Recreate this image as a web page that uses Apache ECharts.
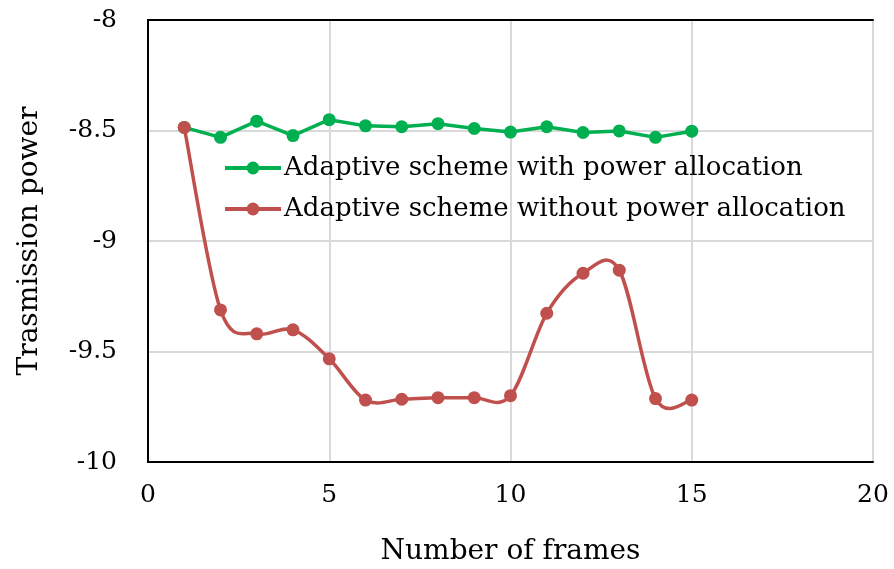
<!DOCTYPE html>
<html>
<head>
<meta charset="utf-8">
<script src="https://cdn.jsdelivr.net/npm/echarts@6/dist/echarts.min.js"></script>
<style>
  html, body { margin: 0; padding: 0; background: #fff; }
  #chart { width: 894px; height: 569px; }
</style>
</head>
<body>
<div id="chart"></div>
<script>
// Frame index for each sample
const frames = [1, 2, 3, 4, 5, 6, 7, 8, 9, 10, 11, 12, 13, 14, 15];

// Transmission power per frame
const withAllocation = [-8.486, -8.531, -8.458, -8.523, -8.451, -8.479, -8.483, -8.469, -8.491, -8.507, -8.483, -8.509, -8.502, -8.531, -8.503];
const withoutAllocation = [-8.486, -9.312, -9.420, -9.402, -9.533, -9.720, -9.716, -9.709, -9.709, -9.700, -9.327, -9.146, -9.132, -9.713, -9.720];

const seriesNames = ['Adaptive scheme with power allocation', 'Adaptive scheme without power allocation'];

const FONT = 'DejaVu Serif';
const GREEN = '#00b050';
const RED = '#c0504d';
const LINE_W = 3.5;

const pairs = (ys) => frames.map((x, i) => [x, ys[i]]);

// Cardinal (Catmull-Rom style) spline through pixel points, returned as SVG path data
function splinePath(pts) {
  const n = pts.length;
  const p = (i) => pts[Math.max(0, Math.min(n - 1, i))];
  let d = 'M' + pts[0][0] + ' ' + pts[0][1];
  for (let i = 0; i < n - 1; i++) {
    const p0 = p(i - 1), p1 = p(i), p2 = p(i + 1), p3 = p(i + 2);
    const c1x = p1[0] + (p2[0] - p0[0]) / 6, c1y = p1[1] + (p2[1] - p0[1]) / 6;
    const c2x = p2[0] - (p3[0] - p1[0]) / 6, c2y = p2[1] - (p3[1] - p1[1]) / 6;
    d += ' C' + c1x + ' ' + c1y + ' ' + c2x + ' ' + c2y + ' ' + p2[0] + ' ' + p2[1];
  }
  return d;
}

const frameLine = { show: true, lineStyle: { color: '#000', width: 2 } };

const chart = echarts.init(document.getElementById('chart'));
chart.setOption({
  animation: false,
  backgroundColor: '#fff',
  grid: { left: 148, right: 21, top: 20, bottom: 107, outerBoundsMode: 'none', containLabel: false },
  legend: {
    orient: 'vertical',
    left: 218,
    top: 150,
    itemWidth: 56,
    itemHeight: 16,
    itemGap: 15,
    textStyle: { fontFamily: FONT, fontSize: 26, color: '#000', padding: [0, 0, 0, -2] },
    data: [
      { name: seriesNames[0], lineStyle: { color: GREEN, width: 4, opacity: 1 } },
      { name: seriesNames[1], lineStyle: { color: RED, width: 4, opacity: 1 } }
    ]
  },
  xAxis: [
    {
      type: 'value',
      min: 0, max: 20, interval: 5,
      name: 'Number of frames',
      nameLocation: 'middle',
      nameGap: 76,
      nameTextStyle: { fontFamily: FONT, fontSize: 28, color: '#000' },
      axisLine: frameLine,
      axisTick: { show: false },
      axisLabel: { fontFamily: FONT, fontSize: 25, color: '#000', margin: 21 },
      splitLine: { show: true, lineStyle: { color: '#d9d9d9', width: 2 } }
    },
    {
      type: 'value', position: 'top',
      min: 0, max: 20, interval: 5,
      axisLine: frameLine,
      axisTick: { show: false },
      axisLabel: { show: false },
      splitLine: { show: false }
    }
  ],
  yAxis: [
    {
      type: 'value',
      min: -10, max: -8, interval: 0.5,
      name: 'Trasmission power',
      nameLocation: 'middle',
      nameGap: 104,
      nameRotate: 90,
      nameTextStyle: { fontFamily: FONT, fontSize: 28, color: '#000' },
      axisLine: frameLine,
      axisTick: { show: false },
      axisLabel: { fontFamily: FONT, fontSize: 25, color: '#000', margin: 31 },
      splitLine: { show: true, lineStyle: { color: '#d9d9d9', width: 2 } }
    },
    {
      type: 'value', position: 'right',
      min: -10, max: -8, interval: 0.5,
      axisLine: frameLine,
      axisTick: { show: false },
      axisLabel: { show: false },
      splitLine: { show: false }
    }
  ],
  series: [
    {
      name: seriesNames[0],
      type: 'line',
      data: pairs(withAllocation),
      z: 3,
      symbol: 'circle',
      symbolSize: 13,
      itemStyle: { color: GREEN },
      lineStyle: { color: GREEN, width: LINE_W }
    },
    {
      // smoothed curve for the second scheme, drawn through the axis scales
      type: 'custom',
      data: [[frames[0], withoutAllocation[0]]],
      z: 4,
      silent: true,
      renderItem: function (params, api) {
        const pts = frames.map((x, i) => api.coord([x, withoutAllocation[i]]));
        return {
          type: 'path',
          shape: { pathData: splinePath(pts) },
          style: { stroke: RED, lineWidth: LINE_W, fill: null }
        };
      }
    },
    {
      name: seriesNames[1],
      type: 'line',
      data: pairs(withoutAllocation),
      z: 5,
      symbol: 'circle',
      symbolSize: 13,
      itemStyle: { color: RED },
      lineStyle: { color: RED, width: LINE_W, opacity: 0 }
    }
  ]
});
</script>
</body>
</html>
